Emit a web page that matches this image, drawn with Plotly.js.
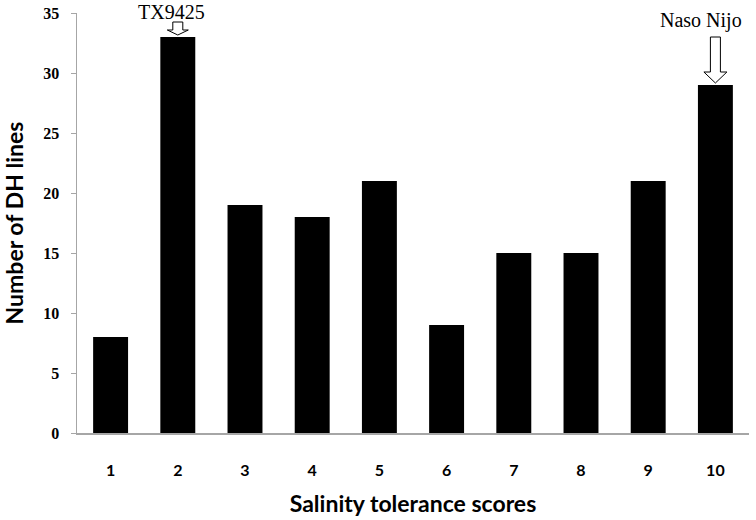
<!DOCTYPE html>
<html>
<head>
<meta charset="utf-8">
<script src="https://cdn.plot.ly/plotly-3.0.1.min.js"></script>
<style>
  html, body { margin: 0; padding: 0; background: #fff; }
  #chart { width: 756px; height: 520px; }
</style>
</head>
<body>
<div id="chart"></div>
<script>
// salinity tolerance score (1-10) and number of DH lines in each class
const scores = [1, 2, 3, 4, 5, 6, 7, 8, 9, 10];
const lineCounts = [8, 33, 19, 18, 21, 9, 15, 15, 21, 29];

// parent lines marked with an arrow above their bars
const parentNames = ['TX9425', 'Naso Nijo'];
const parentScores = [2, 10];

const axisGrey = '#a6a6a6';
const labelFont = 'Lato, "Open Sans", sans-serif';

const bars = {
    x: scores,
    y: lineCounts,
    type: 'bar',
    marker: { color: '#000000', line: { width: 0 } },
    hoverinfo: 'x+y'
};

// hollow block arrows, anchored on the top of the bar and sized in pixels
function arrowPath(shaftLen, headLen) {
    const gap = 2, shaftHalf = 5, headHalf = headLen > 8 ? 11.5 : 10.5;
    const tip = gap, base = gap + headLen, top = gap + shaftLen;
    return 'M 0 ' + tip +
        ' L ' + (-headHalf) + ' ' + base +
        ' L ' + (-shaftHalf) + ' ' + base +
        ' L ' + (-shaftHalf) + ' ' + top +
        ' L ' + shaftHalf + ' ' + top +
        ' L ' + shaftHalf + ' ' + base +
        ' L ' + headHalf + ' ' + base + ' Z';
}

const arrowSizes = [[13, 5], [46, 11]];
const textLift = [25, 65];
const textShift = [-6, -14];

const shapes = [];
const annotations = [];
parentScores.forEach(function (s, i) {
    const v = lineCounts[scores.indexOf(s)];
    shapes.push({
        type: 'path',
        xref: 'x', yref: 'y',
        xsizemode: 'pixel', ysizemode: 'pixel',
        xanchor: s, yanchor: v,
        path: arrowPath(arrowSizes[i][0], arrowSizes[i][1]),
        line: { color: '#000000', width: 1 },
        fillcolor: '#ffffff'
    });
    annotations.push({
        x: s, y: v, xref: 'x', yref: 'y',
        text: parentNames[i],
        showarrow: false,
        yshift: textLift[i],
        xshift: textShift[i],
        font: { family: '"Liberation Serif", "Times New Roman", serif', size: 20, color: '#000' }
    });
});

const layout = {
    width: 756,
    height: 520,
    margin: { l: 77, r: 7, t: 13, b: 87 },
    paper_bgcolor: '#ffffff',
    plot_bgcolor: '#ffffff',
    showlegend: false,
    bargap: 0.48,
    xaxis: {
        range: [0.5, 10.5],
        tickvals: scores,
        ticktext: scores.map(String),
        showgrid: false,
        zeroline: false,
        showline: true,
        linecolor: axisGrey,
        linewidth: 1.5,
        ticks: '',
        ticklabelstandoff: 22,
        tickfont: { family: labelFont, size: 16, color: '#000', weight: 'bold' },
        title: {
            text: 'Salinity tolerance scores',
            standoff: 18,
            font: { family: labelFont, size: 23, color: '#000', weight: 'bold' }
        }
    },
    yaxis: {
        range: [0, 35],
        dtick: 5,
        showgrid: false,
        zeroline: false,
        showline: true,
        linecolor: axisGrey,
        linewidth: 1.5,
        ticks: 'outside',
        ticklen: 5,
        tickcolor: axisGrey,
        ticklabelstandoff: 8,
        tickfont: { family: '"Liberation Serif", serif', size: 16, color: '#000', weight: 'bold' },
        title: {
            text: 'Number of DH lines',
            standoff: 16,
            font: { family: labelFont, size: 23, color: '#000', weight: 'bold' }
        }
    },
    shapes: shapes,
    annotations: annotations
};

Plotly.newPlot('chart', [bars], layout, { displayModeBar: false, staticPlot: true });
</script>
</body>
</html>
